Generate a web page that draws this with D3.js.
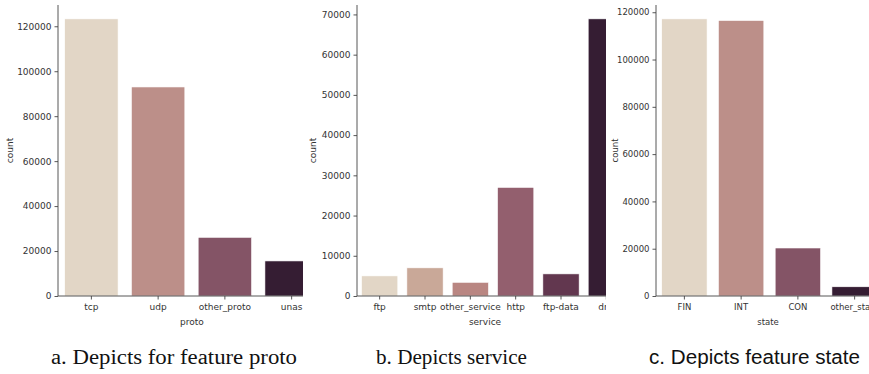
<!DOCTYPE html>
<html>
<head>
<meta charset="utf-8">
<script src="https://cdn.jsdelivr.net/npm/d3@7"></script>
<style>
  body { margin: 0; background: #fff; }
  svg { display: block; }
  .tick text { fill: #333; }
</style>
</head>
<body>
<svg width="869" height="374"></svg>
<script>
// data
var protoCats = ["tcp", "udp", "other_proto", "unas"];
var protoCounts = [123300, 93000, 26100, 15600];
var protoTicks = [0, 20000, 40000, 60000, 80000, 100000, 120000];

var serviceCats = ["ftp", "smtp", "other_service", "http", "ftp-data", "dns"];
var serviceCounts = [5000, 7000, 3400, 27000, 5500, 68900];
var serviceTicks = [0, 10000, 20000, 30000, 40000, 50000, 60000, 70000];

var stateCats = ["FIN", "INT", "CON", "other_state"];
var stateCounts = [117200, 116500, 20300, 3900];
var stateTicks = [0, 20000, 40000, 60000, 80000, 100000, 120000];

var captions = ["a. Depicts for feature proto", "b. Depicts service", "c. Depicts feature state"];

(function () {
    var svg = d3.select("svg");
    var pal4 = ["#e2d6c6", "#bc8f89", "#845466", "#351d33"],
        pal6 = ["#e2d6c6", "#c9a898", "#b98682", "#935f6e", "#62374f", "#351d33"];

    var panels = [
        {cats: protoCats, counts: protoCounts, ticks: protoTicks, colors: pal4, label: "proto",
         x0: 58, x1: 325, clipL: 0, clipR: 303, countX: 10, labelX: 192, font: 9},
        {cats: serviceCats, counts: serviceCounts, ticks: serviceTicks, colors: pal6, label: "service",
         x0: 357, x1: 629, clipL: 303, clipR: 606, countX: 313, labelX: 485, font: 9},
        {cats: stateCats, counts: stateCounts, ticks: stateTicks, colors: pal4, label: "state",
         x0: 656, x1: 883, clipL: 606, clipR: 869, countX: 615, labelX: 768, font: 8.5}
    ];

    var yTop = 5, yBot = 296;

    panels.forEach(function (p, i) {
        var clipId = "clip" + i;
        svg.append("clipPath").attr("id", clipId)
            .append("rect")
            .attr("x", p.clipL).attr("y", 0)
            .attr("width", p.clipR - p.clipL).attr("height", 340);

        var g = svg.append("g").attr("clip-path", "url(#" + clipId + ")");

        var x = d3.scaleBand().domain(p.cats).range([p.x0, p.x1]).paddingInner(0.2).paddingOuter(0.1);
        var y = d3.scaleLinear().domain([0, d3.max(p.counts) * 1.05]).range([yBot, yTop]);

        g.selectAll(".bar")
            .data(p.cats)
            .enter().append("rect")
            .attr("class", "bar")
            .attr("x", function (d) { return x(d); })
            .attr("width", x.bandwidth())
            .attr("y", function (d, j) { return y(p.counts[j]); })
            .attr("height", function (d, j) { return yBot - y(p.counts[j]); })
            .attr("fill", function (d, j) { return p.colors[j]; })
            .attr("stroke", "#fff")
            .attr("stroke-width", 0.6);

        var axisY = g.append("g")
            .attr("transform", "translate(" + p.x0 + ",0)")
            .call(d3.axisLeft(y).tickValues(p.ticks).tickFormat(d3.format("d")).tickSize(3.5).tickPadding(3));
        axisY.select(".domain").attr("d", "M0," + yTop + "V" + yBot);

        var axisX = g.append("g")
            .attr("transform", "translate(0," + yBot + ")")
            .call(d3.axisBottom(x).tickSize(3.5).tickPadding(4));
        axisX.select(".domain").attr("d", "M" + p.x0 + ",0H" + p.x1);

        [axisX, axisY].forEach(function (a) {
            a.selectAll("path, line").attr("stroke", "#444").attr("stroke-width", 0.9);
            a.selectAll("text").style("font-family", "DejaVu Sans").style("font-size", p.font + "px");
        });

        g.append("text")
            .attr("transform", "translate(" + p.countX + "," + ((yTop + yBot) / 2) + ") rotate(-90)")
            .attr("text-anchor", "middle")
            .attr("dy", "0.35em")
            .style("font-family", "DejaVu Sans").style("font-size", p.font + "px").attr("fill", "#333")
            .text("count");

        g.append("text")
            .attr("x", p.labelX).attr("y", 325)
            .attr("text-anchor", "middle")
            .style("font-family", "DejaVu Sans").style("font-size", p.font + "px").attr("fill", "#333")
            .text(p.label);
    });

    // captions under the panels
    var capSpec = [
        {x: 51, w: 246, family: "Liberation Serif"},
        {x: 376, w: 151, family: "Liberation Serif"},
        {x: 649, w: 211, family: "Liberation Sans Narrow, Liberation Sans"}
    ];
    svg.selectAll(".caption")
        .data(captions)
        .enter().append("text")
        .attr("class", "caption")
        .attr("x", function (d, i) { return capSpec[i].x; })
        .attr("y", 364)
        .attr("textLength", function (d, i) { return capSpec[i].w; })
        .attr("lengthAdjust", "spacingAndGlyphs")
        .style("font-family", function (d, i) { return capSpec[i].family; })
        .style("font-size", "20px")
        .attr("fill", "#111")
        .text(function (d) { return d; });
})();
</script>
</body>
</html>
